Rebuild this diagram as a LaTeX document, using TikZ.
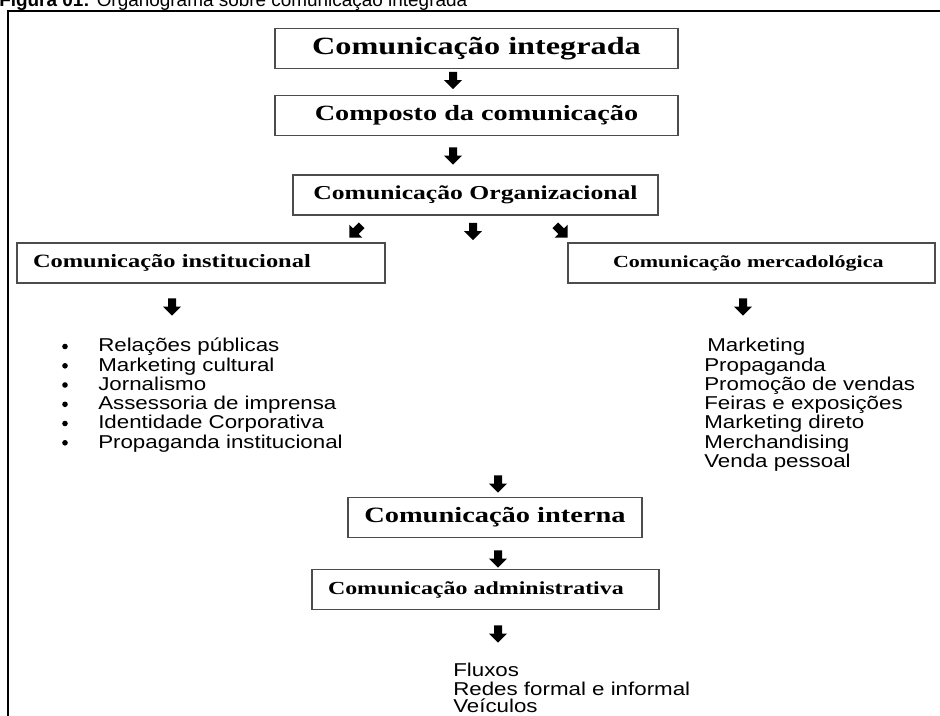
\documentclass[tikz,border=0pt]{standalone}
\usepackage{fontspec}
\newfontfamily\boxfont{Liberation Serif}[FakeStretch=1.3]
\newfontfamily\listfont{Liberation Sans}[FakeStretch=1.2]
\newfontfamily\titlefont{Liberation Sans}
\usetikzlibrary{shapes.arrows}

\tikzset{
  orgbox/.style={draw=black!70, line width=1pt, minimum height=30pt, inner xsep=0pt, inner ysep=0pt},
  leftbox/.style={orgbox, align=left},
  item/.style={anchor=base west, inner sep=0pt, font=\listfont\fontsize{13.95pt}{16pt}\selectfont},
  dnarrow/.style={single arrow, fill=black, inner sep=2.8pt, minimum height=13pt, single arrow head extend=3.8pt},
  bulletpos/.style={xshift=-24.75pt, yshift=3.9pt},
}

\begin{document}
\begin{tikzpicture}[x=0.75pt, y=-0.75pt]
                \useasboundingbox (0,0) rectangle (940,715);
                \clip (0,0) rectangle (940,715);

                \node[anchor=base west, inner sep=0pt, font=\titlefont\fontsize{14.2pt}{16pt}\selectfont] (fig) at (-1,6) {\textbf{Figura 01:} Organograma sobre comunicação integrada};
                \draw[line width=1.5pt] (7.5,730) |- (960,11);

                \node[orgbox, minimum width=302.25pt, font=\boxfont\bfseries\fontsize{18.6pt}{22pt}\selectfont] (ci) at (476.5,48.5) {Comunicação integrada};
                \node[orgbox, minimum width=302.25pt, font=\boxfont\bfseries\fontsize{16.3pt}{20pt}\selectfont] (cc) at (476.5,115.5) {Composto da comunicação};
                \node[orgbox, minimum width=273.75pt, font=\boxfont\bfseries\fontsize{14.8pt}{18pt}\selectfont] (co) at (475.5,195) {Comunicação Organizacional};
                \node[leftbox, inner xsep=12pt, text width=252pt, font=\boxfont\bfseries\fontsize{14.1pt}{17pt}\selectfont] (cinst) at (201,263) {Comunicação institucional};
                \node[leftbox, inner xsep=33.75pt, text width=207.75pt, font=\boxfont\bfseries\fontsize{12.7pt}{15pt}\selectfont] (cmerc) at (751.5,263) {Comunicação mercadológica};
                \node[orgbox, minimum width=220.5pt, font=\boxfont\bfseries\fontsize{16.4pt}{20pt}\selectfont] (cint) at (495,517.5) {Comunicação interna};
                \node[leftbox, inner xsep=12pt, text width=236.25pt, font=\boxfont\bfseries\fontsize{13.8pt}{17pt}\selectfont] (cadm) at (485.5,589.5) {Comunicação administrativa};

                \node[dnarrow, rotate=-90] (ci-cc) at (453,78.5) {};
                \node[dnarrow, rotate=-90] (cc-co) at (453,154) {};
                \node[dnarrow, rotate=-135] (co-inst) at (357,230) {};
                \node[dnarrow, rotate=-90] (co-int) at (473,229.5) {};
                \node[dnarrow, rotate=-45] (co-merc) at (560,230) {};
                \node[dnarrow, rotate=-90] (inst-list) at (172,305) {};
                \node[dnarrow, rotate=-90] (merc-list) at (743,305) {};
                \node[dnarrow, rotate=-90] (list-int) at (498,482) {};
                \node[dnarrow, rotate=-90] (int-adm) at (498,557) {};
                \node[dnarrow, rotate=-90] (adm-list) at (498,632) {};

                % institucional
                \node[item] (rp) at (98,351.7) {Relações públicas};
                \node[item] (mc) at (98,371) {Marketing cultural};
                \node[item] (jo) at (98,390.2) {Jornalismo};
                \node[item] (ai) at (98,409.5) {Assessoria de imprensa};
                \node[item] (idc) at (98,428.7) {Identidade Corporativa};
                \node[item] (pi) at (98,448) {Propaganda institucional};
                \fill ([bulletpos]rp.base west) circle (2.1pt);
                \fill ([bulletpos]mc.base west) circle (2.1pt);
                \fill ([bulletpos]jo.base west) circle (2.1pt);
                \fill ([bulletpos]ai.base west) circle (2.1pt);
                \fill ([bulletpos]idc.base west) circle (2.1pt);
                \fill ([bulletpos]pi.base west) circle (2.1pt);

                % mercadologica
                \node[item] (mk) at (707,351.7) {Marketing};
                \node[item] (pg) at (704,371) {Propaganda};
                \node[item] (pv) at (704,390.2) {Promoção de vendas};
                \node[item] (fe) at (704,409.5) {Feiras e exposições};
                \node[item] (md) at (704,428.7) {Marketing direto};
                \node[item] (me) at (704,448) {Merchandising};
                \node[item] (vp) at (704,467.2) {Venda pessoal};

                % administrativa
                \node[item] (fl) at (453,676) {Fluxos};
                \node[item] (rf) at (453,695) {Redes formal e informal};
                \node[item] (ve) at (453,712.5) {Veículos};
            \end{tikzpicture}
\end{document}
